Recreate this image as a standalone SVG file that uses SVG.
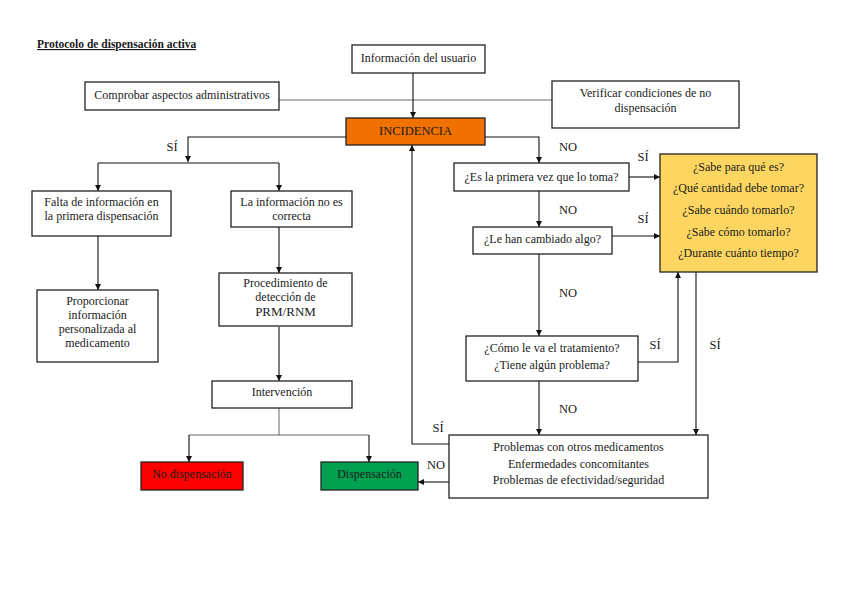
<svg xmlns="http://www.w3.org/2000/svg" width="848" height="599" viewBox="0 0 848 599">
<style>
text{font-family:'Liberation Serif','DejaVu Serif','Times New Roman',serif;font-size:12px;fill:#1a1a1a}
.c{text-anchor:middle}
.box{fill:#fff;stroke:#222;stroke-width:1.3}
.ln{fill:none;stroke:#111;stroke-width:1.1}
.lt{fill:none;stroke:#555;stroke-width:0.9}
.lbl{font-size:12.5px}
</style>
<defs>
<marker id="ah" viewBox="0 0 10 10" refX="10" refY="5" markerWidth="6" markerHeight="6" orient="auto" markerUnits="userSpaceOnUse">
<path d="M0,0 L10,5 L0,10 Z" fill="#111"/>
</marker>
</defs>
<rect width="848" height="599" fill="#fff"/>
<text x="37" y="48" font-family="Liberation Serif, serif" style="font-size:11.5px;font-weight:bold;text-decoration:underline">Protocolo de dispensación activa</text>

<g id="connectors">
<path class="lt" d="M279,100 H552"/>
<path class="ln" d="M413,73 V118" marker-end="url(#ah)"/>
<path class="ln" d="M346,137 H188 V162" marker-end="url(#ah)"/>
<path class="ln" d="M98,163 H279"/>
<path class="ln" d="M98,163 V191" marker-end="url(#ah)"/>
<path class="ln" d="M279,163 V191" marker-end="url(#ah)"/>
<path class="ln" d="M98,236 V290" marker-end="url(#ah)"/>
<path class="ln" d="M279,227 V273" marker-end="url(#ah)"/>
<path class="ln" d="M279,327 V381" marker-end="url(#ah)"/>
<path class="lt" d="M279,408 V435 M189,435 H369"/>
<path class="ln" d="M189,435 V462" marker-end="url(#ah)"/>
<path class="ln" d="M369,435 V462" marker-end="url(#ah)"/>
<path class="ln" d="M485,137 H539 V163" marker-end="url(#ah)"/>
<path class="ln" d="M539,191 V227" marker-end="url(#ah)"/>
<path class="ln" d="M539,254 V336" marker-end="url(#ah)"/>
<path class="ln" d="M539,381 V435" marker-end="url(#ah)"/>
<path class="ln" d="M629,177 H660" marker-end="url(#ah)"/>
<path class="ln" d="M612,236 H660" marker-end="url(#ah)"/>
<path class="ln" d="M638,362 H678 V272" marker-end="url(#ah)"/>
<path class="ln" d="M696,272 V435" marker-end="url(#ah)"/>
<path class="ln" d="M449,444 H412 V145" marker-end="url(#ah)"/>
<path class="ln" d="M449,482 H418" marker-end="url(#ah)"/>
<text class="c lbl" x="172" y="151">SÍ</text>
<text class="c lbl" x="568" y="151">NO</text>
<text class="c lbl" x="643" y="161">SÍ</text>
<text class="c lbl" x="568" y="214">NO</text>
<text class="c lbl" x="643" y="223">SÍ</text>
<text class="c lbl" x="568" y="297">NO</text>
<text class="c lbl" x="655" y="349">SÍ</text>
<text class="c lbl" x="715" y="349">SÍ</text>
<text class="c lbl" x="568" y="413">NO</text>
<text class="c lbl" x="438" y="432">SÍ</text>
<text class="c lbl" x="436" y="469">NO</text>
</g>

<g id="info-usuario">
<rect class="box" x="352" y="45" width="133" height="28"/>
<text class="c" x="418.5" y="62">Información del usuario</text>
</g>
<g id="comprobar">
<rect class="box" x="85" y="82" width="194" height="28"/>
<text class="c" x="182" y="99">Comprobar aspectos administrativos</text>
</g>
<g id="verificar">
<rect class="box" x="552" y="81" width="187" height="47"/>
<text class="c" x="645.5" y="97">Verificar condiciones de no</text>
<text class="c" x="645.5" y="112">dispensación</text>
</g>
<g id="incidencia">
<rect x="346" y="118" width="139" height="27" fill="#F07000" stroke="#222" stroke-width="1.3"/>
<text class="c" x="415.5" y="135" style="font-size:12.5px">INCIDENCIA</text>
</g>
<g id="falta-info">
<rect class="box" x="32" y="191" width="139" height="45"/>
<text class="c" x="101.5" y="206">Falta de información en</text>
<text class="c" x="101.5" y="220">la primera dispensación</text>
</g>
<g id="info-no-correcta">
<rect class="box" x="231" y="191" width="121" height="36"/>
<text class="c" x="291.5" y="206">La información no es</text>
<text class="c" x="291.5" y="220">correcta</text>
</g>
<g id="proporcionar">
<rect class="box" x="37" y="290" width="121" height="72"/>
<text class="c" x="97.5" y="305">Proporcionar</text>
<text class="c" x="97.5" y="319">información</text>
<text class="c" x="97.5" y="333">personalizada al</text>
<text class="c" x="97.5" y="347">medicamento</text>
</g>
<g id="procedimiento">
<rect class="box" x="219" y="273" width="133" height="53"/>
<text class="c" x="285.5" y="287">Procedimiento de</text>
<text class="c" x="285.5" y="301">detección de</text>
<text class="c" x="285.5" y="316" style="font-size:13px">PRM/RNM</text>
</g>
<g id="intervencion">
<rect class="box" x="212" y="381" width="140" height="27"/>
<text class="c" x="282" y="396">Intervención</text>
</g>
<g id="no-dispensacion">
<rect x="141" y="462" width="102" height="28" fill="#FF0000" stroke="#222" stroke-width="1.3"/>
<text class="c" x="192" y="478">No dispensación</text>
</g>
<g id="dispensacion">
<rect x="321" y="462" width="97" height="28" fill="#00A050" stroke="#222" stroke-width="1.3"/>
<text class="c" x="369.5" y="478">Dispensación</text>
</g>
<g id="primera-vez">
<rect class="box" x="454" y="163" width="175" height="28"/>
<text class="c" x="541.5" y="181">¿Es la primera vez que lo toma?</text>
</g>
<g id="cambiado">
<rect class="box" x="473" y="227" width="139" height="27"/>
<text class="c" x="542.5" y="243">¿Le han cambiado algo?</text>
</g>
<g id="como-le-va">
<rect class="box" x="466" y="336" width="172" height="45"/>
<text class="c" x="552" y="352">¿Cómo le va el tratamiento?</text>
<text class="c" x="552" y="369">¿Tiene algún problema?</text>
</g>
<g id="preguntas">
<rect x="660" y="154" width="157" height="118" fill="#FDD662" stroke="#222" stroke-width="1.3"/>
<text class="c" x="738.5" y="171">¿Sabe para qué es?</text>
<text class="c" x="738.5" y="192">¿Qué cantidad debe tomar?</text>
<text class="c" x="738.5" y="214">¿Sabe cuándo tomarlo?</text>
<text class="c" x="738.5" y="236">¿Sabe cómo tomarlo?</text>
<text class="c" x="738.5" y="257">¿Durante cuánto tiempo?</text>
</g>
<g id="problemas">
<rect class="box" x="449" y="435" width="259" height="63"/>
<text class="c" x="578.5" y="451">Problemas con otros medicamentos</text>
<text class="c" x="578.5" y="468">Enfermedades concomitantes</text>
<text class="c" x="578.5" y="484">Problemas de efectividad/seguridad</text>
</g>
</svg>
